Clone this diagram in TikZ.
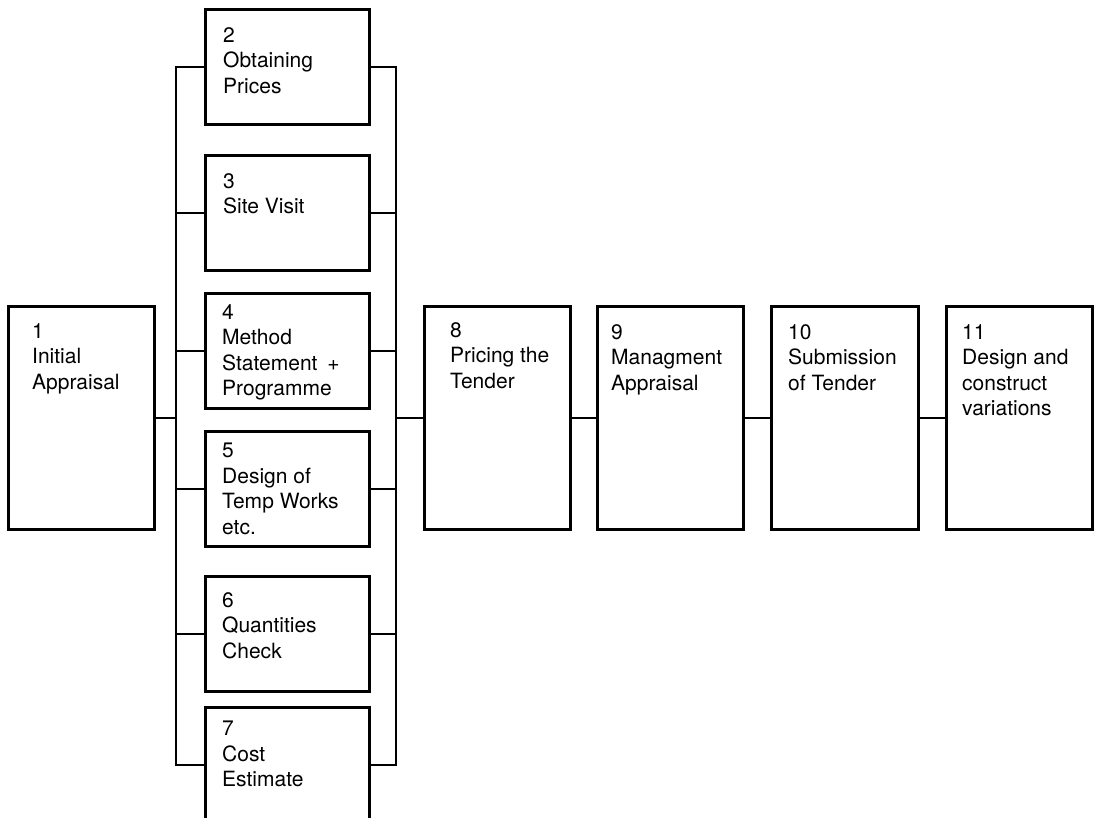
\documentclass[tikz,border=0pt]{standalone}
\usepackage{fontspec}
\setmainfont{TeX Gyre Heros}
\usetikzlibrary{positioning}

\begin{document}
\begin{tikzpicture}[
  x=1pt, y=-1pt,
  stepbox/.style={draw, line width=2.6pt, anchor=north west, inner sep=0pt, minimum width=164pt, minimum height=115pt},
  tallbox/.style={stepbox, minimum width=146pt, minimum height=223pt},
  steptext/.style={align=left, inner sep=0pt, font=\fontsize{21pt}{25.5pt}\selectfont},
  link/.style={line width=2.6pt}
]
\path[use as bounding box, clip] (0,0) rectangle (1094,817);

% bus positions
\coordinate (lbus) at (176,0);
\coordinate (rbus) at (396,0);

\node[tallbox] (s1) at (7,305) {};
\node[stepbox] (s2) at (204,8) {};
\node[stepbox] (s3) at (204,154) {};
\node[stepbox] (s4) at (204,292) {};
\node[stepbox] (s5) at (204,430) {};
\node[stepbox] (s6) at (204,575) {};
\node[stepbox] (s7) at (204,706) {};
\node[tallbox] (s8) at (423,305) {};
\node[tallbox] (s9) at (596,305) {};
\node[tallbox, minimum width=147pt] (s10) at (770,305) {};
\node[tallbox] (s11) at (945,305) {};

\node[steptext, below right=18pt and 25pt of s1.north west] (t1) {1\\Initial\\Appraisal};
\node[steptext, below right=19pt and 19pt of s2.north west] (t2) {2\\Obtaining\\Prices};
\node[steptext, below right=19pt and 19pt of s3.north west] (t3) {3\\Site Visit};
\node[steptext, below right=12pt and 18pt of s4.north west] (t4) {4\\Method\\Statement\hspace{10pt}+\\Programme};
\node[steptext, below right=13pt and 18pt of s5.north west] (t5) {5\\Design of\\Temp Works\\etc.};
\node[steptext, below right=17pt and 18pt of s6.north west] (t6) {6\\Quantities\\Check};
\node[steptext, below right=15pt and 18pt of s7.north west] (t7) {7\\Cost\\Estimate};
\node[steptext, below right=17pt and 27pt of s8.north west] (t8) {8\\Pricing the\\Tender};
\node[steptext, below right=19pt and 15pt of s9.north west] (t9) {9\\Managment\\Appraisal};
\node[steptext, below right=19pt and 18pt of s10.north west] (t10) {10\\Submission\\of Tender};
\node[steptext, below right=19pt and 17pt of s11.north west] (t11) {11\\Design and\\construct\\variations};

% left and right bus
\draw[link] (s2.west) -- (s2.west -| lbus) -- (s7.west -| lbus) -- (s7.west);
\draw[link] (s2.east) -- (s2.east -| rbus) -- (s7.east -| rbus) -- (s7.east);
\foreach \n in {3,...,6} {
  \draw[link] (s\n.west) -- (s\n.west -| lbus);
  \draw[link] (s\n.east) -- (s\n.east -| rbus);
}
\draw[link] (s1.east) -- (s1.east -| lbus);
\draw[link] (s8.west -| rbus) -- (s8.west);

\draw[link] (s8.east) -- (s9.west);
\draw[link] (s9.east) -- (s10.west);
\draw[link] (s10.east) -- (s11.west);
\end{tikzpicture}
\end{document}
